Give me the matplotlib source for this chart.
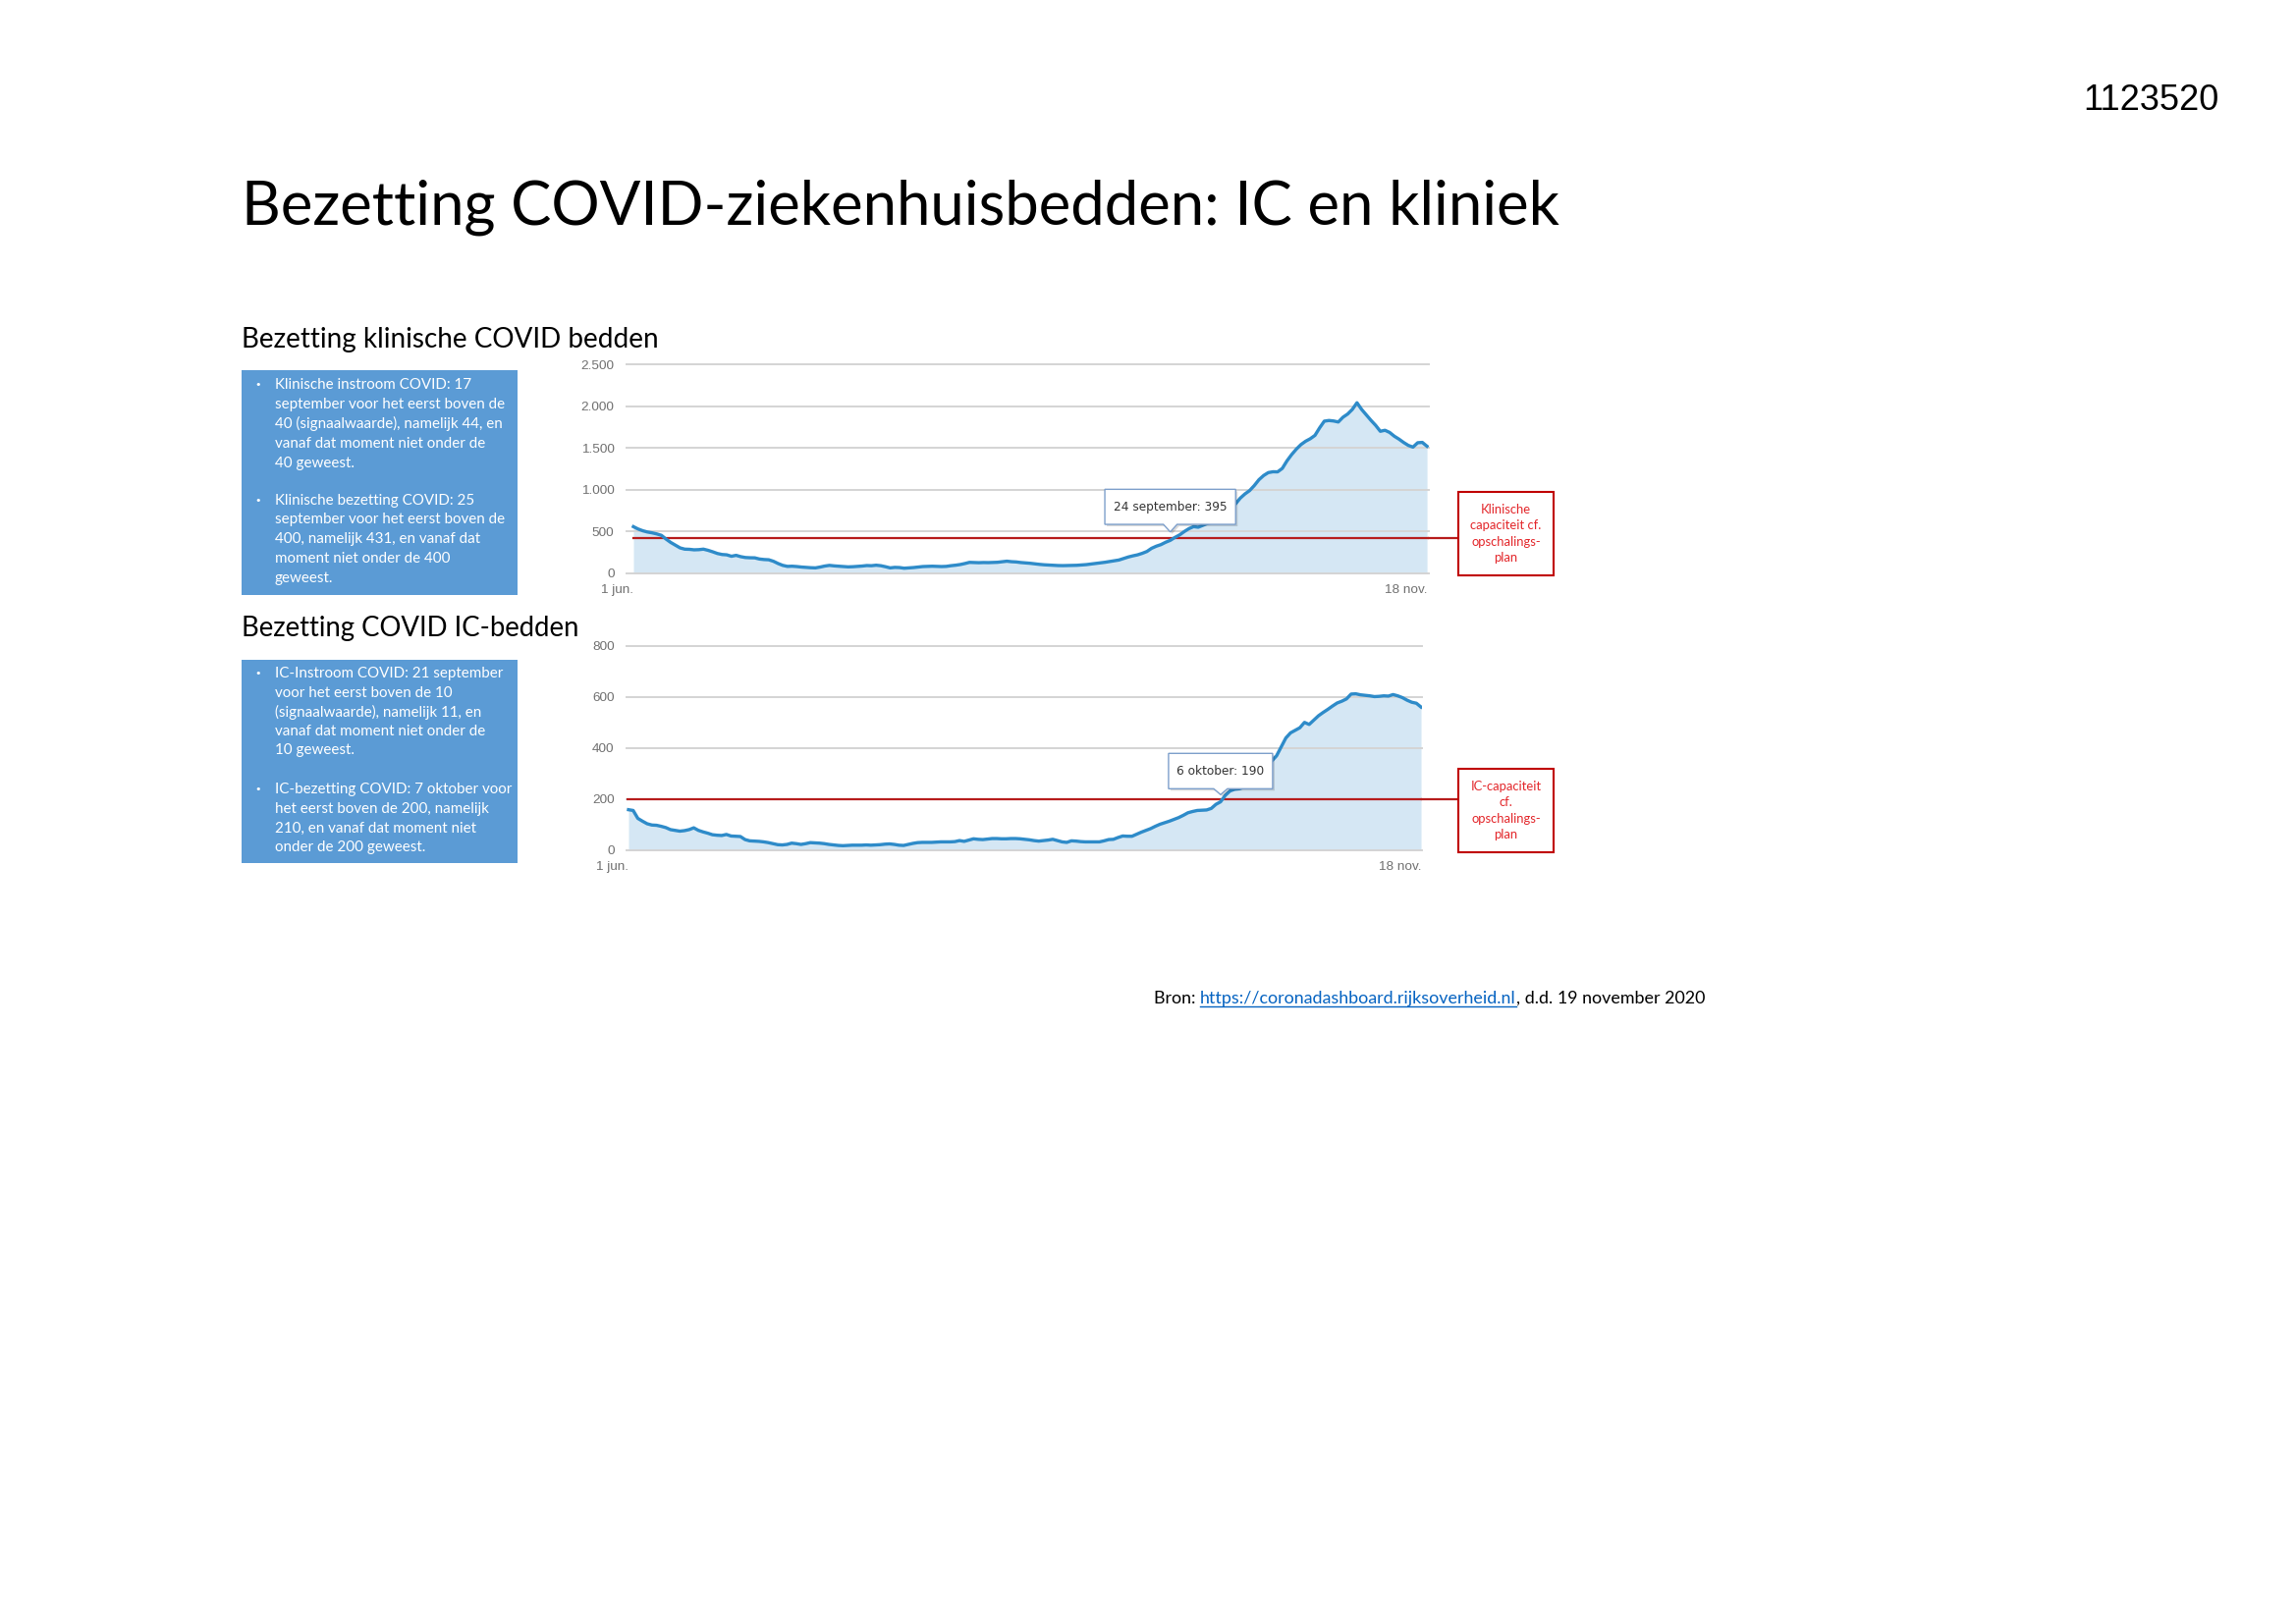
import matplotlib.pyplot as plt
import matplotlib.transforms as mtransforms
from matplotlib.patches import Rectangle, Polygon
from matplotlib.lines import Line2D

W, H = 2338, 1654

# dag 0 = 1 juni, dag 170 = 18 november
dagen = list(range(171))

klinisch = [
    559, 531, 510, 495, 485, 472, 455, 410, 370, 338,
    305, 290, 288, 282, 284, 290, 276, 258, 238, 226,
    222, 205, 216, 200, 190, 187, 186, 172, 166, 163,
    145, 118, 96, 84, 86, 82, 76, 72, 68, 66,
    76, 88, 96, 90, 86, 82, 78, 80, 84, 88,
    94, 92, 98, 92, 80, 66, 72, 70, 62, 66,
    70, 76, 82, 84, 86, 84, 82, 84, 92, 98,
    106, 118, 132, 130, 128, 130, 129, 131, 133, 140,
    146, 140, 137, 130, 126, 121, 114, 108, 103, 100,
    96, 94, 93, 94, 94, 97, 101, 105, 112, 120,
    126, 133, 142, 150, 160, 178, 196, 210, 222, 240,
    262, 300, 325, 344, 372, 395, 430, 460, 500, 535,
    559, 552, 575, 598, 610, 625, 670, 715, 775, 832,
    900, 950, 990, 1050, 1120, 1170, 1205, 1215, 1214, 1255,
    1345, 1420, 1485, 1540, 1580, 1610, 1650, 1740, 1820, 1828,
    1822, 1810, 1867, 1905, 1960, 2040, 1960, 1895, 1830, 1770,
    1699, 1711, 1685, 1640, 1605, 1565, 1530, 1510, 1562, 1566,
    1520,
]

ic = [
    159, 156, 125, 114, 104, 99, 98, 94, 89, 81,
    78, 75, 77, 81, 88, 78, 72, 67, 61, 59,
    58, 62, 56, 55, 54, 42, 37, 36, 35, 33,
    30, 26, 22, 21, 23, 28, 26, 23, 26, 30,
    29, 28, 26, 23, 21, 19, 18, 19, 20, 20,
    20, 21, 20, 21, 22, 24, 25, 23, 20, 19,
    23, 27, 30, 31, 31, 31, 32, 33, 33, 33,
    34, 38, 35, 40, 45, 43, 42, 44, 46, 46,
    45, 45, 46, 46, 45, 43, 41, 38, 36, 38,
    40, 43, 38, 33, 31, 37, 36, 34, 33, 33,
    33, 33, 37, 42, 43, 50, 56, 55, 55, 63,
    71, 78, 85, 94, 102, 108, 114, 121, 128, 137,
    147, 152, 156, 157, 158, 164, 180, 190, 215, 232,
    239, 241, 247, 258, 278, 300, 320, 338, 350, 370,
    405, 440, 460, 470, 480, 501, 493, 510, 527, 540,
    552, 565, 577, 584, 593, 612, 613, 609, 607, 605,
    602, 603, 605, 604, 610, 605, 598, 588, 580, 576,
    561,
]

x_ticks = [0, 170]
x_labels = ['1 jun.', '18 nov.']
klinisch_ticks = [0, 500, 1000, 1500, 2000, 2500]
klinisch_labels = ['0', '500', '1.000', '1.500', '2.000', '2.500']
ic_ticks = [0, 200, 400, 600, 800]
ic_labels = ['0', '200', '400', '600', '800']
klinisch_capaciteit = 420
ic_capaciteit = 200
klinisch_tip = [115, '24 september']
ic_tip = [127, '6 oktober']

titel = 'Bezetting COVID-ziekenhuisbedden: IC en kliniek'
sub_klinisch = 'Bezetting klinische COVID bedden'
sub_ic = 'Bezetting COVID IC-bedden'
tekst_klinisch = [
    ['Klinische instroom COVID: 17', 'september voor het eerst boven de',
     '40 (signaalwaarde), namelijk 44, en', 'vanaf dat moment niet onder de', '40 geweest.'],
    ['Klinische bezetting COVID: 25', 'september voor het eerst boven de',
     '400, namelijk 431, en vanaf dat', 'moment niet onder de 400', 'geweest.'],
]
tekst_ic = [
    ['IC-Instroom COVID: 21 september', 'voor het eerst boven de 10',
     '(signaalwaarde), namelijk 11, en', 'vanaf dat moment niet onder de', '10 geweest.'],
    ['IC-bezetting COVID: 7 oktober voor', 'het eerst boven de 200, namelijk',
     '210, en vanaf dat moment niet', 'onder de 200 geweest.'],
]
box_klinisch = 'Klinische\ncapaciteit cf.\nopschalings-\nplan'
box_ic = 'IC-capaciteit\ncf.\nopschalings-\nplan'

LIJN = '#2E8BC9'
ROOD = '#B71C1C'
BLAUW_VAK = '#5B9BD5'
FONT = 'Lato'
AS_FONT = 'Liberation Sans'

fig = plt.figure(figsize=(W / 100, H / 100), dpi=100)


def fx(x):
    return x / W


def fy(y):
    return 1 - y / H


def grafiek(ax, waarden, ticks, labels, ymax, cap, xlim, rood_start):
    ax.set_xlim(xlim)
    ax.set_ylim(0, ymax)
    ax.fill_between(dagen, waarden, 0, color=LIJN, alpha=0.2, lw=0, zorder=1)
    ax.plot(dagen, waarden, color=LIJN, lw=2.4, zorder=4, solid_joinstyle='round')
    ax.plot([rood_start, xlim[1]], [cap, cap], color=ROOD, lw=1.6, zorder=3)
    ax.set_yticks(ticks)
    ax.set_yticklabels(labels)
    ax.set_xticks(x_ticks)
    ax.set_xticklabels(x_labels)
    for lbl in ax.get_xticklabels():
        lbl.set_ha('right')
    for lbl in ax.get_xticklabels() + ax.get_yticklabels():
        lbl.set_family(AS_FONT)
    ax.tick_params(length=0, labelsize=9.7, labelcolor='#707070')
    ax.tick_params(axis='y', pad=9)
    ax.tick_params(axis='x', pad=8)
    ax.grid(axis='y', color='#D4D4D4', lw=1.4, zorder=0)
    for gl in ax.get_ygridlines():
        gl.set_clip_on(False)
    for s in ax.spines.values():
        s.set_visible(False)
    ax.set_facecolor('none')


def callout(ax, dag, waarde, tekst, half_w, onder, boven, punt):
    trans = fig.dpi_scale_trans + mtransforms.ScaledTranslation(dag, waarde, ax.transData)
    n = 0.07
    verts = [(-half_w, onder), (-n, onder), (0, punt), (n, onder),
             (half_w, onder), (half_w, boven), (-half_w, boven)]
    schaduw = Polygon(verts, closed=True, fc='#000000', ec='none', alpha=0.15,
                      transform=trans + mtransforms.Affine2D().translate(2, -2),
                      clip_on=False, zorder=5)
    vak = Polygon(verts, closed=True, fc='white', ec='#7D9FCB', lw=1.0,
                  transform=trans, clip_on=False, zorder=6)
    ax.add_patch(schaduw)
    ax.add_patch(vak)
    ax.text(0, (onder + boven) / 2, tekst, transform=trans, ha='center', va='center',
            fontsize=8.7, color='#333333', family='DejaVu Sans', zorder=7)


def rood_vak(ax, cap, x0, y0, x1, y1, tekst, regel):
    trans = mtransforms.blended_transform_factory(fig.transFigure, ax.transData)
    rechts = ax.transAxes.transform((1, 0))[0] / W
    ax.add_line(Line2D([rechts, fx(x0)], [cap, cap], transform=trans, color=ROOD,
                       lw=1.6, clip_on=False))
    fig.add_artist(Rectangle((fx(x0), fy(y1)), (x1 - x0) / W, (y1 - y0) / H,
                             transform=fig.transFigure, fc='white', ec='#C00000', lw=1.5))
    fig.text(fx((x0 + x1) / 2), fy((y0 + y1) / 2), tekst, ha='center', va='center',
             color='#E3262A', fontsize=9.4, family=FONT, linespacing=regel)


def tekst_vak(x0, y0, x1, y1, alineas, y_start, stap, alinea_stap):
    fig.add_artist(Rectangle((fx(x0), fy(y1)), (x1 - x0) / W, (y1 - y0) / H,
                             transform=fig.transFigure, fc=BLAUW_VAK, ec='none'))
    y = y_start
    for alinea in alineas:
        fig.text(fx(259), fy(y), '\u2022', color='white', fontsize=8, va='center',
                 family='DejaVu Sans')
        for regel in alinea:
            fig.text(fx(280), fy(y), regel, color='white', fontsize=10.9, va='center',
                     family=FONT)
            y += stap
        y += alinea_stap - stap


# koppen
fig.text(fx(2259), fy(102), '1123520', ha='right', va='center', fontsize=26,
         family='Liberation Sans', color='black')
fig.text(fx(246), fy(228), titel, ha='left', va='baseline', fontsize=44.4,
         family=FONT, color='black')
fig.text(fx(246), fy(354), sub_klinisch, ha='left', va='baseline', fontsize=20.1,
         family=FONT, color='black')
fig.text(fx(246), fy(648), sub_ic, ha='left', va='baseline', fontsize=19.8,
         family=FONT, color='black')

tekst_vak(246, 377, 527, 606, tekst_klinisch, 392, 19.9, 38)
tekst_vak(246, 672, 527, 879, tekst_ic, 686, 19.6, 40)

# klinische bedden
ax1 = fig.add_axes([fx(638), fy(584), (1455 - 638) / W, (584 - 371) / H])
grafiek(ax1, klinisch, klinisch_ticks, klinisch_labels, 2500, klinisch_capaciteit,
        (-1.47, 170.4), dagen[0])
rood_vak(ax1, klinisch_capaciteit, 1485, 501, 1582, 586, box_klinisch, 1.43)
d = klinisch_tip[0]
callout(ax1, d, klinisch[d], f'{klinisch_tip[1]}: {klinisch[d]}', 0.666, 0.163, 0.52, 0.086)

# IC bedden
ax2 = fig.add_axes([fx(638), fy(866), (1448 - 638) / W, (866 - 658) / H])
grafiek(ax2, ic, ic_ticks, ic_labels, 800, ic_capaciteit, (-0.42, 170.2), -0.8)
rood_vak(ax2, ic_capaciteit, 1485, 783, 1582, 868, box_ic, 1.43)
d = ic_tip[0]
callout(ax2, d, ic[d], f'{ic_tip[1]}: {ic[d]}', 0.53, 0.133, 0.493, 0.073)

# bron
renderer = fig.canvas.get_renderer()
x = fx(1175)
for deel, kleur, streep in [('Bron: ', 'black', False),
                            ('https://coronadashboard.rijksoverheid.nl', '#0563C1', True),
                            (', d.d. 19 november 2020', 'black', False)]:
    t = fig.text(x, fy(1022), deel, color=kleur, fontsize=12.9, family=FONT, va='baseline')
    bb = t.get_window_extent(renderer)
    if streep:
        fig.add_artist(Line2D([bb.x0 / W, bb.x1 / W], [fy(1025), fy(1025)], color=kleur,
                              lw=1, transform=fig.transFigure))
    x = bb.x1 / W

fig.savefig('out.png', dpi=100, facecolor='white')
